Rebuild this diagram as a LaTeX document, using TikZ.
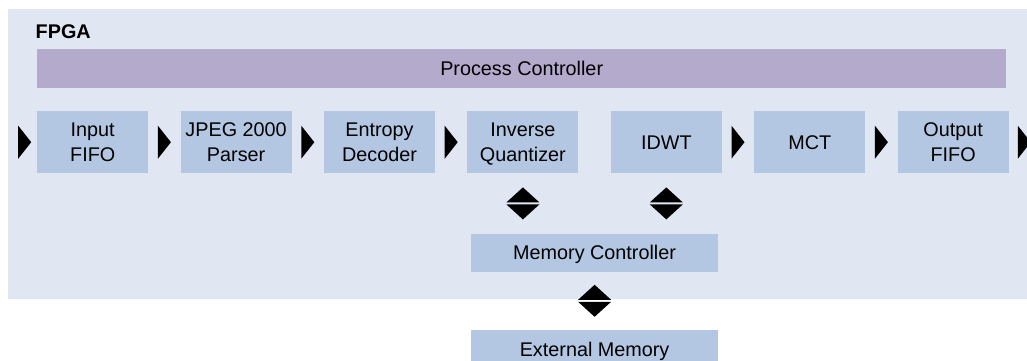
\documentclass[tikz,border=0pt]{standalone}
\usepackage{fontspec}
\setmainfont{Liberation Sans}
\usepackage{xcolor}
\usetikzlibrary{positioning,calc}

\definecolor{fpgabg}{RGB}{224,230,242}
\definecolor{ctrlpurple}{RGB}{180,170,204}
\definecolor{blockblue}{RGB}{180,199,226}

\tikzset{
    block/.style={fill=blockblue, minimum width=111pt, minimum height=62pt,
        inner sep=0pt, align=center, text depth=0pt, font=\fontsize{19.8}{24.3}\selectfont},
    wideblock/.style={block, minimum width=247pt, minimum height=38pt},
    ctrlbar/.style={block, fill=ctrlpurple, minimum width=969pt, minimum height=39pt},
}

% right-pointing data tip centred at #1
\newcommand{\flowtip}[1]{\fill[black] #1 ++(-6.5,-16.5) -- ++(13,16.5) -- ++(-13,16.5) -- cycle;}
% up/down pair of tips centred at #1
\newcommand{\bustip}[1]{%
    \fill[black] #1 ++(0,-16) -- ++(16.5,15) -- ++(-33,0) -- cycle;
    \fill[black] #1 ++(0,16) -- ++(16.5,-15) -- ++(-33,0) -- cycle;}

\begin{document}
\begin{tikzpicture}[x=1pt,y=-1pt]
    \useasboundingbox (0,0) rectangle (1027,361);

    % FPGA area
    \fill[fpgabg] (8,9) rectangle (1027,299);
    \node[anchor=base west, inner sep=0pt, font=\bfseries\fontsize{19.8}{24}\selectfont] (fpga) at (35.5,38.5) {FPGA};

    % Decoder pipeline
    \node[block, anchor=north west] (in) at (37,111) {Input\\FIFO};
    \node[block, right=32pt of in] (parser) {JPEG 2000\\Parser};
    \node[block, right=32pt of parser] (entropy) {Entropy\\Decoder};
    \node[block, right=32pt of entropy] (iq) {Inverse\\Quantizer};
    \node[block, right=32pt of iq] (idwt) {IDWT};
    \node[block, right=32pt of idwt] (mct) {MCT};
    \node[block, right=32pt of mct] (out) {Output\\FIFO};

    % Controller bar over the pipeline
    \node[ctrlbar, above=23pt of in.north west, anchor=south west] (pc) {Process Controller};

    % Memory side
    \coordinate (busmid) at ($(iq.south)!0.5!(idwt.south)$);
    \node[wideblock, below=60pt of busmid] (memctl) {Memory Controller};
    \node[wideblock, below=58pt of memctl] (extmem) {External Memory};

    % Data flow tips
    \flowtip{($(in.west)+(-12.3,0)$)}
    \foreach \a/\b in {in/parser, parser/entropy, entropy/iq, idwt/mct, mct/out} {
        \flowtip{($(\a.east)!0.5!(\b.west)$)}
    }
    \flowtip{($(out.east)+(15.5,0)$)}

    % Memory traffic
    \bustip{($(iq.south)!0.5!(iq.south |- memctl.north)$)}
    \bustip{($(idwt.south)!0.5!(idwt.south |- memctl.north)$)}
    \bustip{($(memctl.south)!0.5!(extmem.north)$)}

\end{tikzpicture}
\end{document}
